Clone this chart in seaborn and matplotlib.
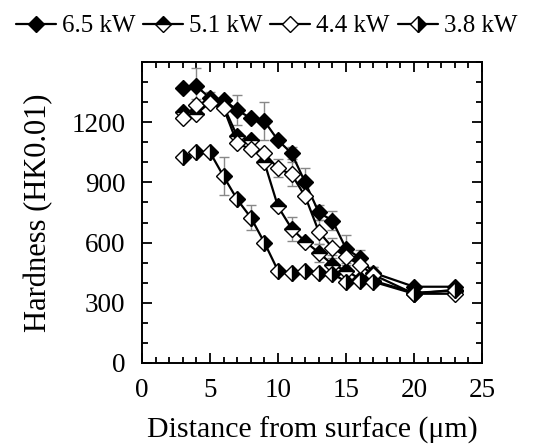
import numpy as np
import pandas as pd
import matplotlib
matplotlib.use("Agg")
import matplotlib.pyplot as plt
import seaborn as sns

# ---- data ----
x_main = [3, 4, 5, 6, 7, 8, 9, 10, 11, 12, 13, 14, 15, 16, 17, 20, 23]

hard_65 = [1370, 1380, 1320, 1310, 1260, 1220, 1205, 1110, 1045, 900, 750, 710, 570, 525, 450, 380, 380]
err_65  = [0, 90, 30, 0, 75, 0, 95, 0, 30, 70, 35, 45, 70, 40, 30, 0, 0]

hard_51 = [1250, 1240, 1300, 1280, 1130, 1110, 1000, 780, 670, 605, 550, 490, 460, 420, 410, 350, 360]
err_51  = [0, 0, 0, 0, 0, 0, 0, 0, 60, 0, 45, 50, 0, 0, 0, 0, 0]

hard_44 = [1220, 1285, 1295, 1270, 1095, 1065, 1045, 970, 940, 830, 655, 575, 530, 490, 440, 345, 345]
err_44  = [0, 30, 0, 0, 0, 0, 0, 45, 60, 0, 60, 50, 40, 0, 40, 0, 0]

hard_38 = [1025, 1050, 1050, 930, 815, 725, 600, 460, 450, 460, 450, 445, 405, 410, 405, 345, 365]
err_38  = [0, 0, 0, 95, 0, 60, 0, 0, 0, 0, 0, 0, 0, 0, 0, 0, 0]

labels = ["6.5 kW", "5.1 kW", "4.4 kW", "3.8 kW"]
series = [hard_65, hard_51, hard_44, hard_38]
errors = [err_65, err_51, err_44, err_38]
fills = ["full", "top", "none", "right"]

xticks = [0, 5, 10, 15, 20, 25]
yticks = [0, 300, 600, 900, 1200]

# ---- style ----
sns.set_theme(style="ticks")
plt.rcParams["font.family"] = ["Liberation Serif", "DejaVu Serif"]
plt.rcParams["text.color"] = "black"
plt.rcParams["axes.labelcolor"] = "black"
plt.rcParams["xtick.color"] = "black"
plt.rcParams["ytick.color"] = "black"

fig = plt.figure(figsize=(5.33, 4.45), dpi=100)
ax = fig.add_axes([0.2664, 0.1843, 0.6379, 0.6764])

for lab, yv, ev, fs in zip(labels, series, errors, fills):
    ev_arr = np.array(ev, dtype=float)
    mask = ev_arr > 0
    xs = np.array(x_main)[mask]
    ys = np.array(yv)[mask]
    ax.errorbar(xs, ys, yerr=ev_arr[mask], fmt="none", ecolor="#888888",
                elinewidth=1.0, capsize=3.5, capthick=1.0, zorder=1)

handles = []
for lab, yv, fs in zip(labels, series, fills):
    df = pd.DataFrame({"x": x_main, "y": yv})
    if fs == "none":
        mfc = "white"
        fstyle = "full"
    else:
        mfc = "black"
        fstyle = fs
    sns.lineplot(data=df, x="x", y="y", ax=ax, color="black", linewidth=1.6,
                 marker="D", markersize=7.8, fillstyle=fstyle,
                 markerfacecolor=mfc, markerfacecoloralt="white",
                 markeredgecolor="black", markeredgewidth=1.0,
                 label=lab, zorder=3, legend=False)
    handles.append(ax.lines[-1])

ax.set_xlim(0, 25)
ax.set_ylim(0, 1500)
ax.set_xticks(xticks)
ax.set_yticks(yticks)
ax.set_xticks(np.arange(0, 26, 1), minor=True)
ax.set_yticks(np.arange(0, 1501, 100), minor=True)
ax.tick_params(which="both", direction="in", top=True, right=True,
               labelsize=19.5, colors="black", width=1.3)
ax.tick_params(axis="x", pad=11)
ax.tick_params(axis="y", pad=12)
ax.tick_params(which="major", length=7.5)
ax.tick_params(which="minor", length=4.5)
for s in ax.spines.values():
    s.set_linewidth(1.4)
    s.set_color("black")

ax.set_xlabel("Distance from surface (μm)", fontsize=21.5, labelpad=10, color="black")
ax.set_ylabel("Hardness (HK0.01)", fontsize=22, labelpad=13, color="black")

fig.legend(handles=handles, labels=labels, loc="upper center",
           bbox_to_anchor=(0.5, 1.0), ncol=4, frameon=False,
           fontsize=18, handlelength=1.6, handletextpad=0.25,
           columnspacing=0.3, borderaxespad=0.2)

fig.savefig("out.png", dpi=100, facecolor="white")
